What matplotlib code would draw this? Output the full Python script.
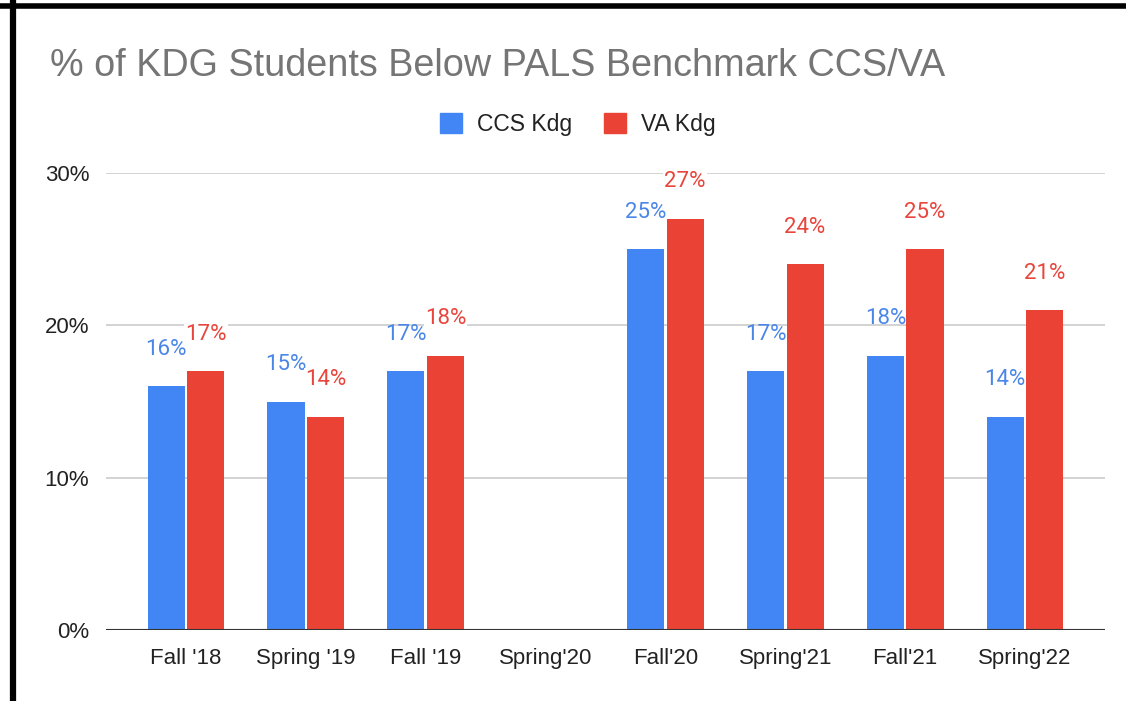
import matplotlib
matplotlib.use("Agg")
import matplotlib.pyplot as plt
from matplotlib.lines import Line2D
from matplotlib.patches import Patch
import numpy as np

# 数据
categories = ["Fall '18", "Spring '19", "Fall '19", "Spring'20",
              "Fall'20", "Spring'21", "Fall'21", "Spring'22"]
ccs_kdg = [0.16, 0.15, 0.17, None, 0.25, 0.17, 0.18, 0.14]
va_kdg = [0.17, 0.14, 0.18, None, 0.27, 0.24, 0.25, 0.21]
y_ticks = [0, 0.10, 0.20, 0.30]

BLUE = "#4285F4"
RED = "#EA4335"
BLUE_TXT = "#4A86E8"
RED_TXT = "#E8453C"

fig = plt.figure(figsize=(11.26, 7.01), dpi=100)
ax = fig.add_axes([106 / 1126, 71 / 701, 999 / 1126, 457 / 701])

x = np.arange(len(categories))
w = 0.31
off = 0.165

for xi, val in zip(x, ccs_kdg):
    if val is None:
        continue
    ax.bar(xi - off, val, width=w, color=BLUE, zorder=3)
    ax.annotate(f"{val:.0%}", (xi - off, val), xytext=(0, 26.5), textcoords="offset points",
                ha="center", va="center", fontsize=16, color=BLUE_TXT, family="Roboto", zorder=4)
for xi, val in zip(x, va_kdg):
    if val is None:
        continue
    ax.bar(xi + off, val, width=w, color=RED, zorder=3)
    ax.annotate(f"{val:.0%}", (xi + off, val), xytext=(0, 26.5), textcoords="offset points",
                ha="center", va="center", fontsize=16, color=RED_TXT, family="Roboto", zorder=4,
                bbox=dict(boxstyle="square,pad=0.05", fc="white", ec="none"))

ax.set_xlim(-0.667, 7.667)
ax.set_ylim(0, 0.30)
ax.set_yticks(y_ticks)
ax.set_yticklabels([f"{t:.0%}" for t in y_ticks], fontsize=16, color="#222222", family="Liberation Sans")
ax.set_xticks(x)
ax.set_xticklabels(categories, fontsize=16, color="#222222", family="Liberation Sans")
ax.tick_params(axis="both", length=0)
ax.tick_params(axis="y", pad=12)
ax.tick_params(axis="x", pad=13)
ax.grid(axis="y", color="#CCCCCC", linewidth=1.2, zorder=0)
for s in ax.spines.values():
    s.set_visible(False)
ax.axhline(0, color="#333333", linewidth=1.5, zorder=5)

fig.text(50 / 1126, 1 - 66 / 701, "% of KDG Students Below PALS Benchmark CCS/VA",
         fontsize=27.2, color="#757575", family="Liberation Sans", va="center", ha="left")

handles = [Patch(color=BLUE), Patch(color=RED)]
fig.legend(handles, ["CCS Kdg", "VA Kdg"], loc="center", bbox_to_anchor=(578 / 1126, 1 - 124 / 701),
           ncol=2, frameon=False, prop={"family": "Liberation Sans", "size": 16.5},
           handlelength=0.96, handleheight=0.96, columnspacing=1.4, handletextpad=0.65,
           labelcolor="#222222")

# 黑色边框
fig.add_artist(Line2D([0, 1], [1 - 5.5 / 701, 1 - 5.5 / 701], color="black", linewidth=4))
fig.add_artist(Line2D([13 / 1126, 13 / 1126], [0, 1 - 3 / 701], color="black", linewidth=4.5))

fig.savefig("out.png", dpi=100)
